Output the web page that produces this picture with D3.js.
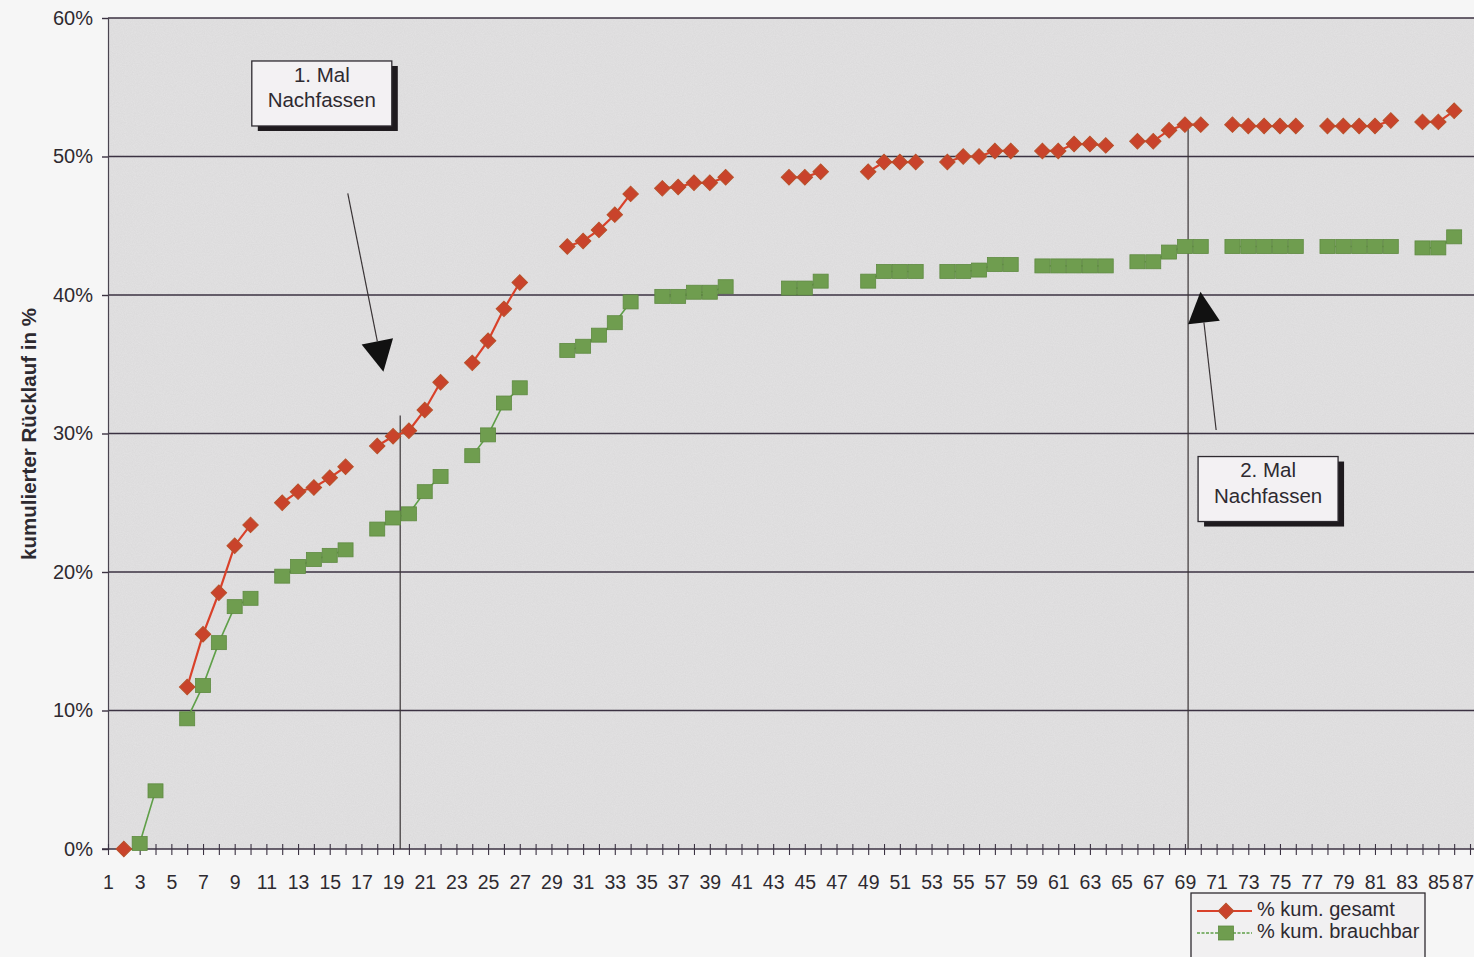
<!DOCTYPE html>
<html>
<head>
<meta charset="utf-8">
<script src="https://cdn.jsdelivr.net/npm/d3@7"></script>
<style>
  html, body { margin: 0; padding: 0; background: #f6f6f6; overflow: hidden; }
  svg { display: block; }
  text { font-family: Arial, "Liberation Sans", sans-serif; fill: #2e2a30; }
</style>
</head>
<body>
<svg id="chart" width="1474" height="957"></svg>
<script>
// ---------- data ----------
const categories = d3.range(1, 88); // 1 .. 87
// % kum. gesamt (null = no value)
const gesamt = [
  null, 0.0, null, null, null, 11.7, 15.5, 18.5, 21.9, 23.4,
  null, 25.0, 25.8, 26.1, 26.8, 27.6, null, 29.1, 29.8, 30.2,
  31.7, 33.7, null, 35.1, 36.7, 39.0, 40.9, null, null, 43.5,
  43.9, 44.7, 45.8, 47.3, null, 47.7, 47.8, 48.1, 48.1, 48.5,
  null, null, null, 48.5, 48.5, 48.9, null, null, 48.9, 49.6,
  49.6, 49.6, null, 49.6, 50.0, 50.0, 50.4, 50.4, null, 50.4,
  50.4, 50.9, 50.9, 50.8, null, 51.1, 51.1, 51.9, 52.3, 52.3,
  null, 52.3, 52.2, 52.2, 52.2, 52.2, null, 52.2, 52.2, 52.2,
  52.2, 52.6, null, 52.5, 52.5, 53.3, null
];
// % kum. brauchbar
const brauchbar = [
  null, null, 0.4, 4.2, null, 9.4, 11.8, 14.9, 17.5, 18.1,
  null, 19.7, 20.4, 20.9, 21.2, 21.6, null, 23.1, 23.9, 24.2,
  25.8, 26.9, null, 28.4, 29.9, 32.2, 33.3, null, null, 36.0,
  36.3, 37.1, 38.0, 39.5, null, 39.9, 39.9, 40.2, 40.2, 40.6,
  null, null, null, 40.5, 40.5, 41.0, null, null, 41.0, 41.7,
  41.7, 41.7, null, 41.7, 41.7, 41.8, 42.2, 42.2, null, 42.1,
  42.1, 42.1, 42.1, 42.1, null, 42.4, 42.4, 43.1, 43.5, 43.5,
  null, 43.5, 43.5, 43.5, 43.5, 43.5, null, 43.5, 43.5, 43.5,
  43.5, 43.5, null, 43.4, 43.4, 44.2, null
];
const yTicks = [0, 10, 20, 30, 40, 50, 60];
const seriesNames = ["% kum. gesamt", "% kum. brauchbar"];
const yTitle = "kumulierter Rücklauf in %";
// annotations in data space: [category, percent]
const markerLines = [ {cat: 19.45, top: 31.3}, {cat: 69.2, top: 52.0} ];
const notes = [
  {lines: ["1. Mal", "Nachfassen"], cat: 14.5, val: 54.55, tail: [16.14, 47.34], tip: [18.39, 34.46]},
  {lines: ["2. Mal", "Nachfassen"], cat: 74.25, val: 25.99, tail: [70.97, 30.25], tip: [69.98, 40.24]}
];

// ---------- layout ----------
const svg = d3.select("#chart");
const X0 = 108, X87 = 1470, YTOP = 18, YBOT = 849, PRIGHT = 1500, W = 1474;
const x = d3.scaleLinear().domain([1, 87]).range([X0, X87]);
const y = d3.scaleLinear().domain([0, 60]).range([YBOT, YTOP]);
const FONT = "Arial, 'Liberation Sans', sans-serif";

svg.append("rect").attr("width", 1474).attr("height", 957).attr("fill", "#f6f6f6");

// subtle scan noise
const defs = svg.append("defs");
const f = defs.append("filter").attr("id", "noise").attr("x", 0).attr("y", 0).attr("width", "100%").attr("height", "100%");
f.append("feTurbulence").attr("type", "fractalNoise").attr("baseFrequency", 0.9).attr("numOctaves", 2).attr("seed", 3);
f.append("feColorMatrix").attr("type", "matrix")
  .attr("values", "0 0 0 0 0.45  0 0 0 0 0.45  0 0 0 0 0.45  0 0 0 0.35 -0.05");

// plot area
svg.append("rect").attr("x", X0).attr("y", YTOP).attr("width", PRIGHT - X0).attr("height", YBOT - YTOP)
  .attr("fill", "#e2e1e2");
svg.append("rect").attr("x", X0).attr("y", YTOP).attr("width", PRIGHT - X0).attr("height", YBOT - YTOP)
  .attr("filter", "url(#noise)").attr("opacity", 0.55);

// gridlines
svg.append("g").selectAll("line").data(yTicks.filter(d => d > 0)).join("line")
  .attr("x1", X0).attr("x2", PRIGHT)
  .attr("y1", d => y(d)).attr("y2", d => y(d))
  .attr("stroke", "#3b3242").attr("stroke-width", 1.6);

// y axis
const yAxis = d3.axisLeft(y).tickValues(yTicks).tickFormat(d => d + "%").tickSize(6).tickPadding(9);
const gy = svg.append("g").attr("transform", `translate(${X0},0)`).call(yAxis);
gy.select(".domain").attr("stroke", "#4a4450").attr("stroke-width", 1.2);
gy.selectAll(".tick line").attr("stroke", "#3b3242").attr("stroke-width", 1.4);
gy.selectAll(".tick text").attr("font-size", 20).attr("fill", "#3a3640").attr("font-family", FONT);

// x axis
const xAxis = d3.axisBottom(x).tickValues(categories)
  .tickFormat(d => (d % 2 === 1 ? String(d) : "")).tickSize(6).tickPadding(20);
const gx = svg.append("g").attr("transform", `translate(0,${YBOT})`).call(xAxis);
gx.select(".domain").attr("d", `M${X0 - 6},0H${PRIGHT}`).attr("stroke", "#3b3242").attr("stroke-width", 1.6);
gx.selectAll(".tick line").attr("y1", -5).attr("y2", 6).attr("stroke", "#3b3242").attr("stroke-width", 1.1);
gx.selectAll(".tick text").attr("font-size", 19.5).attr("fill", "#3a3640").attr("font-family", FONT);
// keep the last label inside the picture
gx.selectAll(".tick").filter(d => d === 87).select("text")
  .attr("text-anchor", "end").attr("x", W - x(87) - 0.5);

// y title
svg.append("text")
  .attr("transform", `translate(31,434) rotate(-90)`)
  .attr("text-anchor", "middle").attr("dominant-baseline", "middle")
  .attr("font-size", 20.5).attr("font-weight", "bold")
  .attr("fill", "#2a262c").text(yTitle);

// vertical marker lines
svg.append("g").selectAll("line").data(markerLines).join("line")
  .attr("x1", d => x(d.cat)).attr("x2", d => x(d.cat))
  .attr("y1", d => y(d.top)).attr("y2", YBOT)
  .attr("stroke", "#3a3436").attr("stroke-width", 1.2);

// series
const line = d3.line()
  .defined(d => d.v !== null)
  .x(d => x(d.c)).y(d => y(d.v));
const gData = categories.map((c, i) => ({c, v: gesamt[i]}));
const bData = categories.map((c, i) => ({c, v: brauchbar[i]}));

// green series
svg.append("path").datum(bData).attr("d", line)
  .attr("fill", "none").attr("stroke", "#5f9f48").attr("stroke-width", 1.6);
svg.append("g").selectAll("rect").data(bData.filter(d => d.v !== null)).join("rect")
  .attr("x", d => x(d.c) - 7.5).attr("y", d => y(d.v) - 7)
  .attr("width", 15).attr("height", 14)
  .attr("fill", "#6f9d4f").attr("stroke", "#5e8a40").attr("stroke-width", 0.8);

// red series
svg.append("path").datum(gData).attr("d", line)
  .attr("fill", "none").attr("stroke", "#d9412a").attr("stroke-width", 2.2);
const diamond = d3.symbol().type(d3.symbolSquare).size(120);
svg.append("g").selectAll("path").data(gData.filter(d => d.v !== null)).join("path")
  .attr("d", diamond)
  .attr("transform", d => `translate(${x(d.c)},${y(d.v)}) rotate(45)`)
  .attr("fill", "#c9432b").attr("stroke", "#b8502a").attr("stroke-width", 1);

// annotation boxes + arrows
notes.forEach(n => {
  const cx = x(n.cat), cy = y(n.val);
  const w = 140, h = 65;
  svg.append("rect").attr("x", cx - w / 2 + 6).attr("y", cy - h / 2 + 5)
    .attr("width", w).attr("height", h).attr("fill", "#1e1a1e");
  svg.append("rect").attr("x", cx - w / 2).attr("y", cy - h / 2)
    .attr("width", w).attr("height", h).attr("fill", "#f3f1f3")
    .attr("stroke", "#2e2a30").attr("stroke-width", 1.3);
  n.lines.forEach((t, i) => {
    svg.append("text").attr("x", cx).attr("y", cy - 17 + i * 25.5)
      .attr("text-anchor", "middle").attr("dominant-baseline", "middle")
      .attr("font-size", 20.5).attr("fill", "#2a262c").text(t);
  });
  // arrow
  const tx = x(n.tail[0]), ty = y(n.tail[1]);
  const px = x(n.tip[0]), py = y(n.tip[1]);
  const dx = px - tx, dy = py - ty, L = Math.hypot(dx, dy);
  const ux = dx / L, uy = dy / L;
  const headL = 31, headW = 16;
  const bx = px - ux * headL, by = py - uy * headL;
  svg.append("line").attr("x1", tx).attr("y1", ty).attr("x2", bx).attr("y2", by)
    .attr("stroke", "#3a3436").attr("stroke-width", 1.2);
  svg.append("path")
    .attr("d", `M${px},${py}L${bx - uy * headW},${by + ux * headW}L${bx + uy * headW},${by - ux * headW}Z`)
    .attr("fill", "#111");
});

// legend
const lg = svg.append("g").attr("transform", "translate(1191,893)");
lg.append("rect").attr("width", 234).attr("height", 80)
  .attr("fill", "#f1f0f1").attr("stroke", "#2e2a30").attr("stroke-width", 1.3);
const legendItems = [
  {name: seriesNames[0], color: "#d9412a", type: "diamond"},
  {name: seriesNames[1], color: "#5f9f48", type: "square"}
];
legendItems.forEach((it, i) => {
  const ly = 18 + i * 22;
  lg.append("line").attr("x1", 6).attr("x2", 61).attr("y1", ly).attr("y2", ly)
    .attr("stroke", it.color).attr("stroke-width", it.type === "diamond" ? 2.2 : 1.6)
    .attr("stroke-dasharray", it.type === "diamond" ? null : "3,1.5");
  if (it.type === "diamond") {
    lg.append("path").attr("d", diamond).attr("transform", `translate(35,${ly}) rotate(45)`)
      .attr("fill", "#c9432b").attr("stroke", "#b8502a");
  } else {
    lg.append("rect").attr("x", 35 - 7.5).attr("y", ly - 7).attr("width", 15).attr("height", 14)
      .attr("fill", "#6f9d4f").attr("stroke", "#5e8a40").attr("stroke-width", 0.8);
  }
  lg.append("text").attr("x", 66).attr("y", ly).attr("dominant-baseline", "middle")
    .attr("font-size", 20).attr("fill", "#2a262c").text(it.name);
});
</script>
</body>
</html>
